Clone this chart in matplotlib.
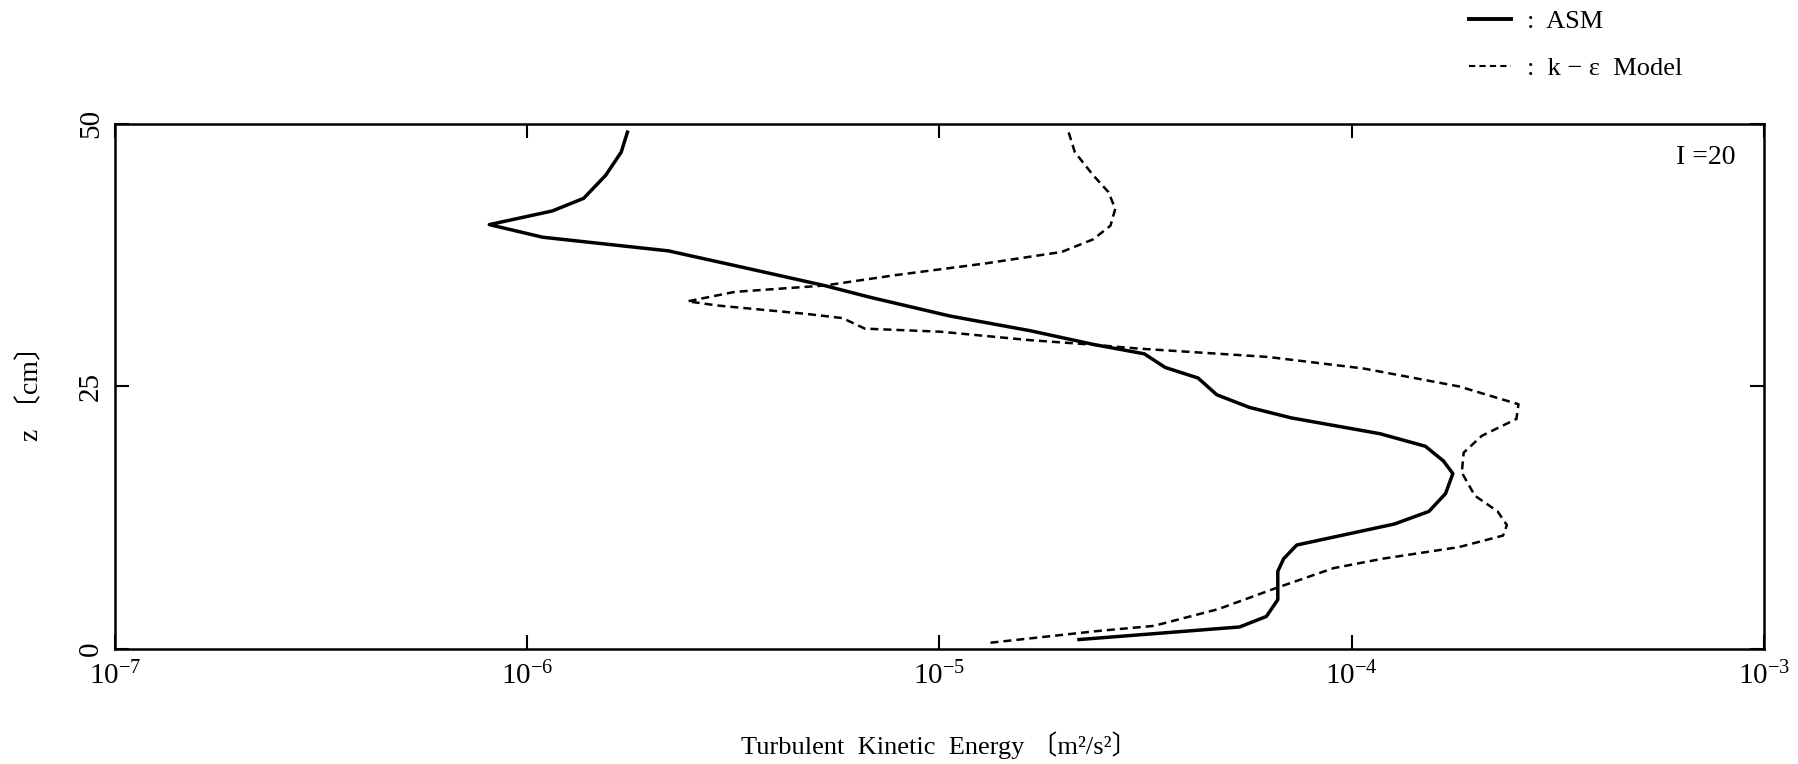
import numpy as np
import matplotlib
matplotlib.use("Agg")
import matplotlib.pyplot as plt
from matplotlib.lines import Line2D
from matplotlib.ticker import FixedLocator, LogFormatterMathtext, NullLocator

plt.rcParams['font.family'] = ['Liberation Serif', 'Noto Sans CJK JP', 'DejaVu Serif']
plt.rcParams['mathtext.fontset'] = 'stix'

# ASM profile: height z [cm] and turbulent kinetic energy [m2/s2]
asm_z = [0.9, 2.1, 3.1, 4.7, 7.4, 8.6, 9.9, 11.9, 13.1, 14.8, 16.7, 17.9, 19.3, 20.5,
         22.0, 23.0, 24.2, 25.8, 26.8, 28.1, 29.0, 30.3, 31.7, 33.5, 34.6, 36.5,
         37.9, 39.2, 40.4, 41.7, 42.9, 45.1, 47.3, 49.2]
asm_k = [2.18e-5, 5.35e-5, 6.21e-5, 6.62e-5, 6.62e-5, 6.84e-5, 7.36e-5, 1.27e-4,
         1.54e-4, 1.69e-4, 1.76e-4, 1.67e-4, 1.51e-4, 1.17e-4, 7.14e-5, 5.65e-5,
         4.71e-5, 4.24e-5, 3.53e-5, 3.14e-5, 2.36e-5, 1.66e-5, 1.06e-5, 6.76e-6,
         5.26e-6, 3.19e-6, 2.20e-6, 1.09e-6, 8.09e-7, 1.15e-6, 1.37e-6, 1.55e-6,
         1.69e-6, 1.75e-6]

# k-epsilon model profile
ke_z = [0.6, 1.7, 2.2, 3.8, 5.8, 7.7, 8.6, 9.7, 10.8, 11.8, 13.1, 14.6, 16.8, 18.7,
        20.3, 21.9, 23.3, 25.0, 26.7, 27.8, 28.6, 29.0, 29.4, 30.2, 30.5, 31.5,
        31.9, 32.7, 33.1, 34.0, 34.6, 35.6, 36.7, 37.8, 39.0, 40.3, 41.9, 43.5,
        45.1, 47.3, 49.4]
ke_k = [1.33e-5, 2.40e-5, 3.31e-5, 4.75e-5, 6.55e-5, 9.04e-5, 1.19e-4, 1.82e-4,
        2.33e-4, 2.38e-4, 2.26e-4, 1.99e-4, 1.85e-4, 1.87e-4, 2.07e-4, 2.51e-4,
        2.54e-4, 1.82e-4, 1.07e-4, 6.28e-5, 3.04e-5, 2.30e-5, 1.66e-5, 1.01e-5,
        6.59e-6, 5.82e-6, 4.76e-6, 2.89e-6, 2.45e-6, 3.19e-6, 5.26e-6, 7.85e-6,
        1.29e-5, 1.98e-5, 2.36e-5, 2.60e-5, 2.67e-5, 2.57e-5, 2.36e-5, 2.13e-5,
        2.05e-5]

x_ticks = [1e-7, 1e-6, 1e-5, 1e-4, 1e-3]
y_ticks = [0, 25, 50]

fig = plt.figure(figsize=(17.98, 7.64), dpi=100)
ax = fig.add_axes([0.064, 0.1505, 0.917, 0.6875])

ax.plot(asm_k, asm_z, color='black', lw=2.5, solid_joinstyle='round')
ax.plot(ke_k, ke_z, color='black', lw=1.8, linestyle=(0, (3.2, 2.0)))

ax.set_xscale('log')
ax.set_xlim(1e-7, 1e-3)
ax.set_ylim(0, 50)
ax.xaxis.set_major_locator(FixedLocator(x_ticks))
ax.xaxis.set_major_formatter(LogFormatterMathtext())
ax.xaxis.set_minor_locator(NullLocator())
ax.set_yticks(y_ticks)
ax.tick_params(axis='both', direction='in', length=10, width=1.5,
               top=True, right=True, labelsize=21)
ax.tick_params(axis='x', pad=9)
ax.tick_params(axis='y', labelrotation=90, pad=8)
for lab in ax.get_yticklabels():
    lab.set_va('center')
for sp in ax.spines.values():
    sp.set_linewidth(1.8)

ax.set_xlabel('Turbulent  Kinetic  Energy 〔m²/s²〕', fontsize=19, labelpad=30)
ax.set_ylabel('z 〔cm〕', fontsize=20, labelpad=24)

ax.text(0.947, 0.935, 'I =20', transform=ax.transAxes, fontsize=20,
        ha='left', va='center')

handles = [Line2D([0], [0], color='black', lw=2.8),
           Line2D([0], [0], color='black', lw=1.5, linestyle=(0, (3, 2)))]
fig.legend(handles, [':  ASM', ':  k − ε  Model'], loc='upper left',
           bbox_to_anchor=(0.808, 1.008), frameon=False, fontsize=19,
           handlelength=1.6, handletextpad=0.6, labelspacing=0.9, borderpad=0.1)

fig.savefig('out.png', dpi=100)
